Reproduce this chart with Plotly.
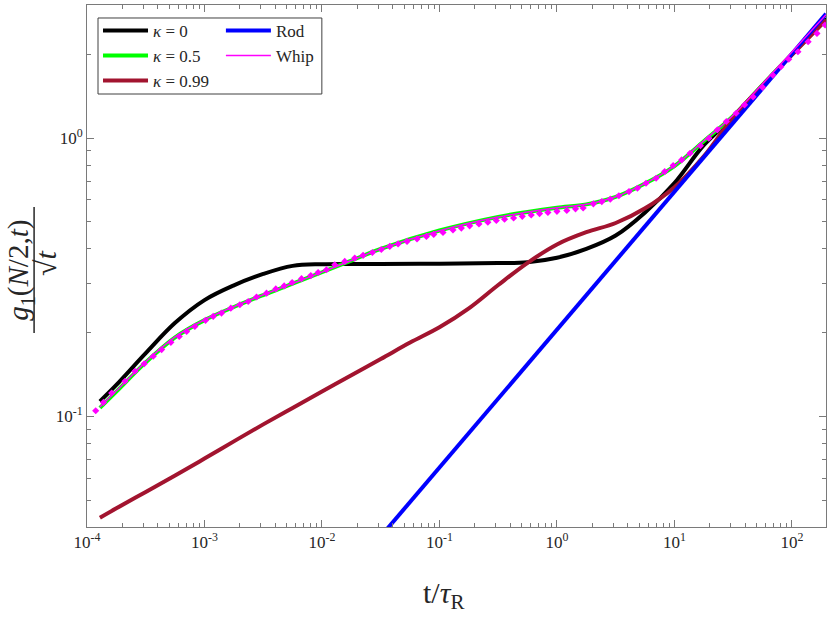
import plotly.graph_objects as go

# curve data (t / tau_R, g1(N/2,t)/sqrt(t))
t_k0 = [1.288e-4, 1.778e-4, 3.162e-4, 5.623e-4, 1.0e-3, 1.778e-3, 3.162e-3, 5.623e-3,
        0.01, 0.01778, 0.03162, 0.1, 0.3162, 0.5623, 1.0, 1.778, 3.162, 5.623, 10.0,
        17.78, 31.62, 56.23, 100.0, 195.0]
g_k0 = [0.1132, 0.1297, 0.1687, 0.2168, 0.2618, 0.2958, 0.3250, 0.3475,
        0.3524, 0.3532, 0.3532, 0.3540, 0.3556, 0.3581, 0.3715, 0.3999, 0.4467, 0.5408, 0.6902,
        0.9441, 1.191, 1.542, 2.004, 2.698]

t_k05 = [1.288e-4, 1.778e-4, 3.162e-4, 5.623e-4, 1.0e-3, 1.778e-3, 3.162e-3, 5.623e-3,
         0.01, 0.01778, 0.03162, 0.1, 0.3162, 0.5623, 1.0, 1.778, 3.162, 5.623, 10.0,
         17.78, 31.62, 56.23, 100.0, 195.0]
g_k05 = [0.1072, 0.1227, 0.1563, 0.1923, 0.2218, 0.2472, 0.2729, 0.2999,
         0.3296, 0.3631, 0.3999, 0.4656, 0.5212, 0.5433, 0.5623, 0.5781, 0.6152, 0.6871, 0.7943,
         0.9750, 1.202, 1.556, 2.004, 2.661]

t_k099 = [1.288e-4, 1.778e-4, 3.162e-4, 5.623e-4, 1.0e-3, 1.778e-3, 3.162e-3, 5.623e-3,
          0.01, 0.01778, 0.03162, 0.05623, 0.1, 0.1778, 0.3162, 0.5623, 1.0, 1.778, 3.162,
          5.623, 10.0, 17.78, 31.62, 56.23, 100.0, 195.0]
g_k099 = [0.04315, 0.04667, 0.05346, 0.06124, 0.07047, 0.08128, 0.09354, 0.1072,
          0.1227, 0.1406, 0.1607, 0.1841, 0.2089, 0.2443, 0.2965, 0.3565, 0.4150, 0.4592, 0.4955,
          0.5598, 0.6668, 0.8610, 1.189, 1.549, 1.995, 2.661]

t_rod = [0.035, 0.1, 1.0, 10.0, 100.0, 195.0]
g_rod = [0.0389, 0.0655, 0.205, 0.640, 2.00, 2.80]

t_whip = [1.288e-4, 1.778e-4, 3.162e-4, 5.623e-4, 1.0e-3, 1.778e-3, 3.162e-3, 5.623e-3,
          0.01, 0.01778, 0.03162, 0.1, 0.3162, 0.5623, 1.0, 1.778, 3.162, 5.623, 10.0,
          17.78, 31.62, 56.23, 100.0, 195.0]
g_whip = [0.1080, 0.1235, 0.1570, 0.1930, 0.2225, 0.2478, 0.2735, 0.3004,
          0.3300, 0.3635, 0.3999, 0.4650, 0.5205, 0.5425, 0.5620, 0.5785, 0.6160, 0.6885, 0.7960,
          0.9790, 1.210, 1.570, 2.040, 2.780]

# whip data points (diamonds)
t_pts = [1.186e-4, 1.380e-4, 1.622e-4, 2.104e-4, 2.559e-4, 3.069e-4, 3.664e-4, 4.315e-4,
         5.176e-4, 6.095e-4, 7.047e-4, 8.279e-4, 1.021e-3, 1.186e-3, 1.396e-3, 1.675e-3,
         2.000e-3, 2.355e-3, 2.773e-3, 3.373e-3, 4.046e-3, 4.764e-3, 5.572e-3, 6.699e-3,
         8.035e-3, 9.268e-3, 0.01091, 0.01285, 0.01563, 0.01901, 0.02239, 0.02685,
         0.03199, 0.03776, 0.04446, 0.05297, 0.06442, 0.07745, 0.08933, 0.1072,
         0.1303, 0.1535, 0.1807, 0.2168, 0.2582, 0.3048, 0.3581, 0.4276, 0.5070,
         0.6039, 0.7112, 0.8375, 1.0, 1.213, 1.439, 1.671, 2.042, 2.410, 2.844,
         3.365, 4.102, 4.842, 5.728, 6.982, 8.260, 9.750, 11.51, 13.58, 16.63,
         19.63, 23.23, 27.67, 33.50, 39.54, 46.67, 56.23, 68.71, 80.54, 93.97,
         112.5, 137.4, 163.3, 191.4]
g_pts = [0.1047, 0.1122, 0.1213, 0.1337, 0.1452, 0.1545, 0.1644, 0.1738,
         0.1845, 0.1936, 0.2018, 0.2104, 0.2213, 0.2286, 0.2350, 0.2449,
         0.2518, 0.2588, 0.2685, 0.2773, 0.2871, 0.2944, 0.3027, 0.3126,
         0.3206, 0.3289, 0.3365, 0.3508, 0.3606, 0.3707, 0.3793, 0.3882,
         0.3981, 0.4083, 0.4169, 0.4256, 0.4345, 0.4436, 0.4508, 0.4581,
         0.4677, 0.4753, 0.4842, 0.4920, 0.4989, 0.5058, 0.5117, 0.5164, 0.5236,
         0.5297, 0.5358, 0.5408, 0.5458, 0.5495, 0.5572, 0.5610, 0.5808, 0.5916, 0.6039,
         0.6209, 0.6427, 0.6607, 0.6887, 0.7178, 0.7586, 0.7980, 0.8356, 0.8831, 0.9397,
         1.000, 1.072, 1.148, 1.230, 1.318, 1.409, 1.524, 1.687, 1.807, 1.923,
         2.046, 2.223, 2.382, 2.553]

x_ticks = [1e-4, 1e-3, 1e-2, 1e-1, 1e0, 1e1, 1e2]
x_ticktext = ["10<sup>-4</sup>", "10<sup>-3</sup>", "10<sup>-2</sup>", "10<sup>-1</sup>",
              "10<sup>0</sup>", "10<sup>1</sup>", "10<sup>2</sup>"]
y_ticks = [1e-1, 1e0]
y_ticktext = ["10<sup>-1</sup>", "10<sup>0</sup>"]

SERIF = "Liberation Serif"
AX = "#7a7a7a"
TXT = "#262626"

fig = go.Figure()
fig.add_trace(go.Scatter(x=t_k0, y=g_k0, mode="lines", name="<i>κ</i> = 0",
                         line=dict(color="#000000", width=4, shape="spline"), legend="legend"))
fig.add_trace(go.Scatter(x=t_k05, y=g_k05, mode="lines", name="<i>κ</i> = 0.5",
                         line=dict(color="#00ff00", width=4, shape="spline"), legend="legend"))
fig.add_trace(go.Scatter(x=t_k099, y=g_k099, mode="lines", name="<i>κ</i> = 0.99",
                         line=dict(color="#a2142f", width=4, shape="spline"), legend="legend"))
fig.add_trace(go.Scatter(x=t_rod, y=g_rod, mode="lines", name="Rod",
                         line=dict(color="#0000ff", width=4), legend="legend2"))
fig.add_trace(go.Scatter(x=t_whip, y=g_whip, mode="lines", name="Whip",
                         line=dict(color="#ff00ff", width=1.5, shape="spline"), legend="legend2"))
fig.add_trace(go.Scatter(x=t_pts, y=g_pts, mode="markers", showlegend=False,
                         marker=dict(symbol="diamond", size=5.5, color="#ff00ff")))

minor_vals = [m * 10.0 ** e for e in range(-5, 3) for m in range(2, 10)]

axis_common = dict(
    type="log", showgrid=False, zeroline=False, automargin=False,
    showline=True, linecolor=AX, linewidth=1, mirror="allticks",
    ticks="inside", ticklen=7, tickcolor=AX, tickwidth=1,
    tickfont=dict(family=SERIF, size=17, color=TXT),
    minor=dict(ticks="inside", ticklen=4, tickcolor=AX, tickvals=minor_vals, showgrid=False),
)

legend_common = dict(xanchor="left", yanchor="top", bgcolor="rgba(0,0,0,0)",
                     font=dict(family=SERIF, size=17, color=TXT), itemwidth=45, tracegroupgap=0)

fig.update_layout(
    width=830, height=623,
    margin=dict(l=87, r=4, t=5, b=96, autoexpand=False),
    plot_bgcolor="white", paper_bgcolor="white",
    xaxis=dict(range=[-4, 2.29], tickvals=x_ticks, ticktext=x_ticktext, **axis_common),
    yaxis=dict(range=[-1.398, 0.479], tickvals=y_ticks, ticktext=y_ticktext, **axis_common),
    legend=dict(x=0.0149, y=0.985, **legend_common),
    legend2=dict(x=0.1812, y=0.985, **legend_common),
    showlegend=True,
)

# legend frame
fig.add_shape(type="rect", xref="paper", yref="paper", x0=0.0149, x1=0.3178, y0=0.8295, y1=0.9751,
              line=dict(color="#404040", width=1), fillcolor="rgba(255,255,255,0)", layer="above")

# x label
fig.add_annotation(text="t/<i>τ</i><sub>R</sub>", xref="paper", yref="paper", x=0.482, y=-0.13,
                   xanchor="center", yanchor="middle", showarrow=False,
                   font=dict(family=SERIF, size=30, color=TXT))

# y label drawn as a rotated fraction
fig.add_annotation(text="<i>g</i><sub>1</sub>(<i>N</i>/2,<i>t</i>)", xref="paper", yref="paper",
                   x=-0.0905, y=0.491, xanchor="center", yanchor="middle", textangle=-90,
                   showarrow=False, font=dict(family=SERIF, size=29, color=TXT))
fig.add_annotation(text="√<i>t</i>", xref="paper", yref="paper",
                   x=-0.056, y=0.505, xanchor="center", yanchor="middle", textangle=-90,
                   showarrow=False, font=dict(family=SERIF, size=30, color=TXT))
fig.add_shape(type="line", xref="paper", yref="paper", x0=-0.0716, x1=-0.0716, y0=0.3716, y1=0.613,
              line=dict(color=TXT, width=1.5))

fig.write_html("out.html", config={"displayModeBar": False},
               post_script="document.body.style.margin='0px';")
